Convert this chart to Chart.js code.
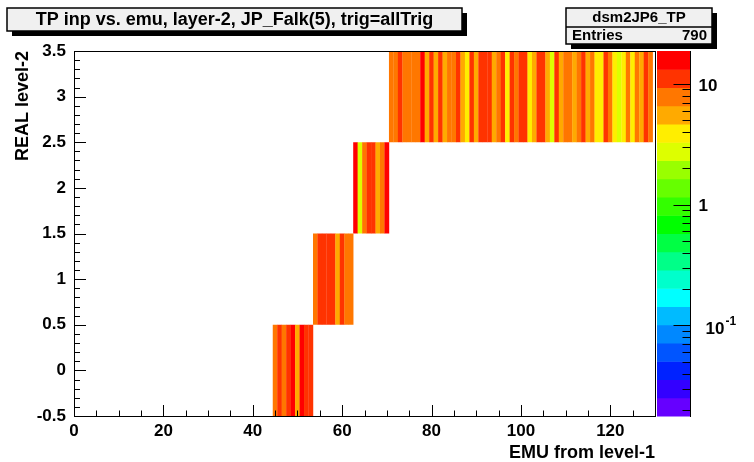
<!DOCTYPE html>
<html>
<head>
<meta charset="utf-8">
<title>dsm2JP6_TP</title>
<script src="https://cdn.jsdelivr.net/npm/chart.js@4.4.1/dist/chart.umd.min.js"></script>
<style>
  html, body { margin: 0; padding: 0; background: #fff; }
  canvas { display: block; }
</style>
</head>
<body>
<canvas id="histo" width="754" height="462" style="width:754px;height:462px"></canvas>
<script>
const histTitle = 'TP inp vs. emu, layer-2, JP_Falk(5), trig=allTrig';
const histName = 'dsm2JP6_TP';
const histEntries = 790;
const xAxisTitle = 'EMU from level-1';
const yAxisTitle = 'REAL level-2';

// REAL level-2 rows and the first EMU bin that is filled in each row
const realLevels = [0, 1, 2, 3];
const emuFirstBin = [45, 54, 63, 71];

// bin contents, one EMU bin per entry
const countsReal0 = [9, 12, 8, 13, 16, 6, 15, 12, 11];
const countsReal1 = [8, 12, 13, 12, 11, 6, 12, 9, 8];
const countsReal2 = [17, 3, 9, 13, 12, 6, 8, 16];
const countsReal3 = [
  9, 8, 12, 9, 8, 9, 8, 15, 6, 12,
  5, 13, 6, 9, 8, 11, 6, 4, 12, 6,
  13, 12, 12, 5, 9, 12, 4, 11, 8, 12,
  13, 4, 6, 12, 11, 6, 3, 12, 5, 8,
  9, 6, 8, 11, 6, 9, 4, 4, 12, 8,
  4, 3, 4, 8, 4, 9, 6, 12, 8
];
const rowCounts = [countsReal0, countsReal1, countsReal2, countsReal3];

const xTicks = [0, 20, 40, 60, 80, 100, 120];
const yTicks = [-0.5, 0, 0.5, 1, 1.5, 2, 2.5, 3, 3.5];
const zTicks = [0.1, 1, 10];
const zMin = 0.0178;
const zMax = 18.7;

// colour palette, bottom (low) to top (high)
const palette = [
  '#6600ff', '#3300ff', '#0022ff', '#0055ff', '#0088ff',
  '#00bbff', '#00ffff', '#00ffcc', '#00ff88', '#00ff44',
  '#00ff00', '#33ff00', '#66ff00', '#99ff00', '#ddff00',
  '#ffee00', '#ffaa00', '#ff7700', '#ff3300', '#ff0000'
];

const fontFamily = '"Liberation Sans", Arial, Helvetica, sans-serif';

function colourFor(n) {
  const lmin = Math.log10(zMin), lmax = Math.log10(zMax);
  let i = Math.floor((Math.log10(n) - lmin) / (lmax - lmin) * palette.length);
  i = Math.max(0, Math.min(palette.length - 1, i));
  return palette[i];
}

const datasets = realLevels.map((level, r) => ({
  label: 'REAL ' + level,
  data: rowCounts[r].map((n, i) => ({ x: emuFirstBin[r] + i, y: [level - 0.5, level + 0.5], n: n })),
  backgroundColor: ctx => (ctx.raw ? colourFor(ctx.raw.n) : palette[palette.length - 1]),
  borderWidth: 0,
  grouped: false,
  barPercentage: 1.06,
  categoryPercentage: 1
}));

function drawBox(ctx, x0, y0, w, h) {
  ctx.fillStyle = '#000';
  ctx.fillRect(x0 + 5, y0 + 5, w, h);
  ctx.fillStyle = '#f0f0f0';
  ctx.fillRect(x0, y0, w, h);
  ctx.strokeStyle = '#000';
  ctx.lineWidth = 1.5;
  ctx.strokeRect(x0, y0, w, h);
}

const rootStyle = {
  id: 'rootStyle',
  afterDraw(chart) {
    const { ctx, chartArea: a } = chart;
    const { x, y, z } = chart.scales;
    ctx.save();

    // frame
    ctx.strokeStyle = '#000';
    ctx.lineWidth = 1;
    ctx.strokeRect(a.left + 0.5, a.top + 0.5, a.right - a.left, a.bottom - a.top);

    // x ticks: every 5, long every 20
    ctx.beginPath();
    for (let v = 0; v <= x.max; v += 5) {
      const px = Math.round(x.getPixelForValue(v)) + 0.5;
      const len = v % 20 === 0 ? 11 : 5.5;
      ctx.moveTo(px, a.bottom);
      ctx.lineTo(px, a.bottom - len);
    }
    // y ticks: every 0.1, long every 0.5
    for (let i = 0; i <= 40; i++) {
      const py = Math.round(y.getPixelForValue(y.min + i * 0.1)) + 0.5;
      const len = i % 5 === 0 ? 12 : 6;
      ctx.moveTo(a.left, py);
      ctx.lineTo(a.left + len, py);
    }
    ctx.stroke();

    // colour palette
    const barL = z.left + 2, barW = 33;
    const lmin = Math.log10(z.min), lmax = Math.log10(z.max);
    const step = (lmax - lmin) / palette.length;
    palette.forEach((c, i) => {
      const top = z.getPixelForValue(Math.pow(10, lmin + (i + 1) * step));
      const bot = z.getPixelForValue(Math.pow(10, lmin + i * step));
      ctx.fillStyle = c;
      ctx.fillRect(barL, top, barW, bot - top + 0.5);
    });
    const axX = barL + barW + 0.5;
    ctx.beginPath();
    ctx.moveTo(axX, a.top);
    ctx.lineTo(axX, a.bottom + 1);
    for (let d = -2; d <= 1; d++) {
      for (let m = 1; m <= 9; m++) {
        const v = m * Math.pow(10, d);
        if (v < z.min || v > z.max) continue;
        const py = Math.round(z.getPixelForValue(v)) + 0.5;
        ctx.moveTo(axX, py);
        ctx.lineTo(axX - (m === 1 ? 17 : 8), py);
      }
    }
    ctx.stroke();

    ctx.fillStyle = '#000';
    ctx.textBaseline = 'middle';
    ctx.textAlign = 'left';
    zTicks.forEach(v => {
      const py = z.getPixelForValue(v) + 2;
      const e = Math.round(Math.log10(v));
      ctx.font = 'bold 17px ' + fontFamily;
      if (e === 0) ctx.fillText('1', axX + 8, py);
      else if (e === 1) ctx.fillText('10', axX + 8, py);
      else {
        ctx.fillText('10', axX + 15, py + 2);
        const w = ctx.measureText('10').width;
        ctx.font = 'bold 12px ' + fontFamily;
        ctx.fillText(String(e), axX + 15 + w + 1, py - 6);
      }
    });

    // title box
    drawBox(ctx, 7, 8, 455, 23);
    ctx.fillStyle = '#000';
    ctx.font = 'bold 18px ' + fontFamily;
    ctx.textAlign = 'center';
    ctx.fillText(histTitle, 7 + 455 / 2, 20);

    // stats box
    drawBox(ctx, 566, 8, 146, 36);
    ctx.beginPath();
    ctx.moveTo(566, 27);
    ctx.lineTo(712, 27);
    ctx.stroke();
    ctx.fillStyle = '#000';
    ctx.font = 'bold 15px ' + fontFamily;
    ctx.textAlign = 'center';
    ctx.fillText(histName, 639, 18);
    ctx.textAlign = 'left';
    ctx.fillText('Entries', 572, 36);
    ctx.textAlign = 'right';
    ctx.fillText(String(histEntries), 707, 36);

    ctx.restore();
  }
};

const tickFont = { family: fontFamily, weight: 'bold', size: 17 };
const titleFont = { family: fontFamily, weight: 'bold', size: 18 };

new Chart(document.getElementById('histo'), {
  type: 'bar',
  data: { datasets: datasets },
  options: {
    responsive: false,
    animation: false,
    events: [],
    layout: { padding: { top: 51, left: 0, right: 0, bottom: 0 } },
    plugins: { legend: { display: false }, tooltip: { enabled: false } },
    scales: {
      x: {
        type: 'linear', min: 0, max: 130, offset: false,
        afterBuildTicks: s => { s.ticks = xTicks.map(v => ({ value: v })); },
        afterFit: s => { s.height = 46; },
        grid: { display: false, drawTicks: false },
        border: { display: false },
        ticks: { color: '#000', font: tickFont, padding: 5, maxRotation: 0, autoSkip: false, callback: v => String(v) },
        title: { display: true, text: xAxisTitle, align: 'end', color: '#000', font: titleFont, padding: { top: 0, bottom: -2 } }
      },
      y: {
        type: 'linear', min: -0.5, max: 3.5,
        afterBuildTicks: s => { s.ticks = yTicks.map(v => ({ value: v })); },
        afterFit: s => { s.width = 74; },
        grid: { display: false, drawTicks: false },
        border: { display: false },
        ticks: { color: '#000', font: tickFont, padding: 8, autoSkip: false, callback: v => String(v) },
        title: { display: true, text: yAxisTitle, align: 'end', color: '#000', font: titleFont, padding: { top: 12, bottom: 0 } }
      },
      z: {
        type: 'logarithmic', position: 'right', min: zMin, max: zMax,
        afterFit: s => { s.width = 99; },
        grid: { display: false, drawTicks: false },
        border: { display: false },
        ticks: { display: false }
      }
    }
  },
  plugins: [rootStyle]
});
</script>
</body>
</html>
